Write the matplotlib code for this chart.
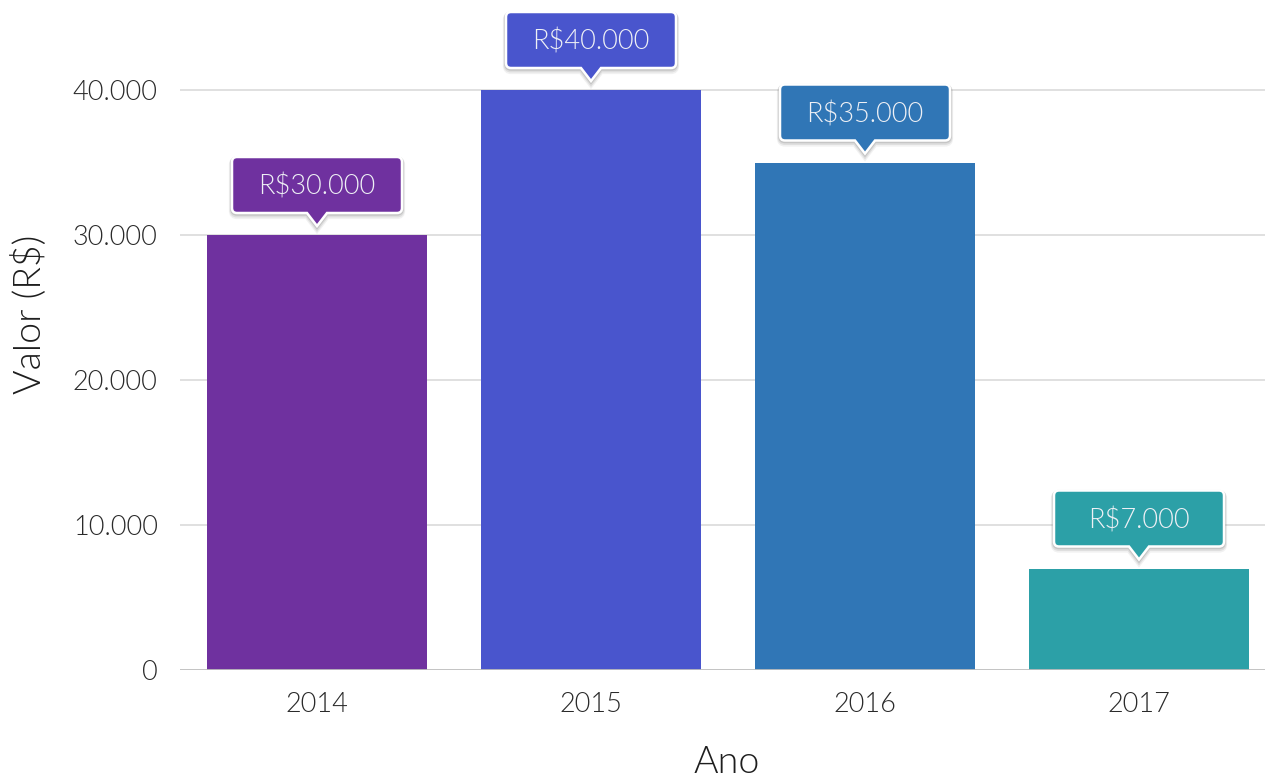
import matplotlib
matplotlib.use("Agg")
import matplotlib.pyplot as plt
from matplotlib import transforms
from matplotlib.path import Path
from matplotlib.patches import PathPatch

# Data
anos = ["2014", "2015", "2016", "2017"]
valores = [30000, 40000, 35000, 7000]
cores = ["#6f319f", "#4955cd", "#3076b6", "#2ca0a7"]
rotulos = ["R$30.000", "R$40.000", "R$35.000", "R$7.000"]
yticks = [0, 10000, 20000, 30000, 40000]
ytick_labels = ["0", "10.000", "20.000", "30.000", "40.000"]

plt.rcParams["font.family"] = ["Lato", "DejaVu Sans"]
FW = 300

W, H = 1265, 780
fig = plt.figure(figsize=(W / 100, H / 100), dpi=100)
ax = fig.add_axes([180 / W, 110 / H, 1096 / W, 670 / H])

x = list(range(len(anos)))
ax.bar(x, valores, width=0.803, color=cores, zorder=2)

ax.set_xlim(-0.5, 3.5)
ax.set_ylim(0, 40000 * 670 / 580)
ax.set_yticks(yticks)
ax.set_yticklabels(ytick_labels)
ax.set_xticks(x)
ax.set_xticklabels(anos)

for yv in yticks[1:]:
    ax.axhline(yv, color="#dddddd", lw=1.3, zorder=1)
ax.axhline(0, color="#bdbdbd", lw=2.0, zorder=3)

for s in ax.spines.values():
    s.set_visible(False)
ax.tick_params(length=0, labelsize=19.5, labelcolor="#2a2a2a", pad=16)
for lab in ax.get_xticklabels() + ax.get_yticklabels():
    lab.set_fontweight(FW)

# Axis titles
fig.text(29 / W, 1 - 314 / H, "Valor (R$)", rotation=90, ha="center", va="center",
         fontsize=27, color="#1e1e1e", fontweight=FW)
fig.text(727 / W, 1 - 773 / H, "Ano", ha="center", va="baseline",
         fontsize=27, color="#1e1e1e", fontweight=FW)


def callout_path(l, r, b, t, tip, pw, rad):
    verts = [
        (l + rad, b), (-pw, b), (0, tip), (pw, b), (r - rad, b),
        (r, b), (r, b + rad), (r, t - rad),
        (r, t), (r - rad, t), (l + rad, t),
        (l, t), (l, t - rad), (l, b + rad),
        (l, b), (l + rad, b), (l + rad, b),
    ]
    codes = [
        Path.MOVETO, Path.LINETO, Path.LINETO, Path.LINETO, Path.LINETO,
        Path.CURVE3, Path.CURVE3, Path.LINETO,
        Path.CURVE3, Path.CURVE3, Path.LINETO,
        Path.CURVE3, Path.CURVE3, Path.LINETO,
        Path.CURVE3, Path.CURVE3, Path.CLOSEPOLY,
    ]
    # pixel units -> inches
    verts = [(vx / 100.0, vy / 100.0) for vx, vy in verts]
    return Path(verts, codes)


for xi, v, c, txt in zip(x, valores, cores, rotulos):
    anchor = transforms.ScaledTranslation(xi, v, ax.transData)
    tr = fig.dpi_scale_trans + anchor
    p = callout_path(-85, 85, 22, 78, 9, 10, 5)
    # soft shadow
    for k, a in [(3, 0.08), (2, 0.12), (1, 0.18)]:
        sh = PathPatch(p, transform=tr + transforms.Affine2D().translate(0, -k),
                       facecolor="none", edgecolor="#555555", lw=k + 1.5,
                       alpha=a, zorder=4, clip_on=False)
        ax.add_patch(sh)
    box = PathPatch(p, transform=tr, facecolor=c, edgecolor="white", lw=1.8,
                    zorder=5, clip_on=False)
    ax.add_patch(box)
    ax.text(0, 0.485, txt, transform=tr, ha="center", va="center",
            fontsize=19.5, color="#eef0f5", fontweight=FW, zorder=6,
            clip_on=False)

fig.savefig("out.png", dpi=100)
